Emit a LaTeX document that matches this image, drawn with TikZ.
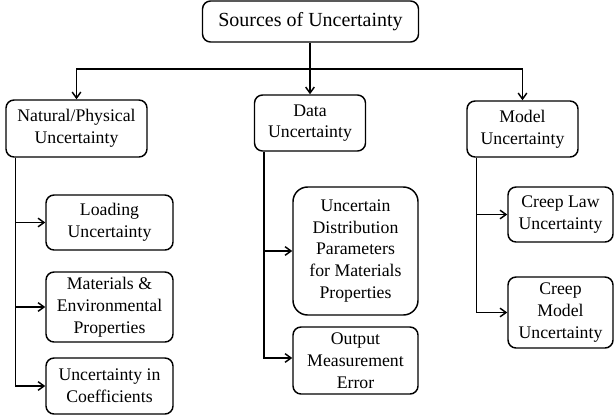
\documentclass[tikz,border=0pt]{standalone}
\usepackage{fontspec}
\setmainfont{Liberation Serif}
\usepackage{tikz}
\usetikzlibrary{arrows.meta}

\begin{document}
\begin{tikzpicture}[x=0.75pt, y=-0.75pt, line width=1.1pt,
  >={Straight Barb[length=4.5pt,width=6.5pt]},
  box/.style={draw, rounded corners=6pt, align=center, inner sep=0pt,
    font=\fontsize{13.3}{16.3}\selectfont}]
\useasboundingbox (0,0) rectangle (614,418);

\node[box, font=\fontsize{15}{18}\selectfont, minimum width=216*0.75pt, minimum height=41*0.75pt] (root) at (310.5,21.5) {Sources of Uncertainty};

\node[box, minimum width=141*0.75pt, minimum height=57*0.75pt] (nat) at (76.5,128.5) {Natural/Physical\\Uncertainty};
\node[box, minimum width=111*0.75pt, minimum height=56*0.75pt] (data) at (310,123) {Data\\Uncertainty};
\node[box, minimum width=111*0.75pt, minimum height=56*0.75pt] (model) at (522.5,129) {Model\\Uncertainty};

\node[box, minimum width=127*0.75pt, minimum height=55*0.75pt] (load) at (109.5,222.5) {Loading\\Uncertainty};
\node[box, minimum width=127*0.75pt, minimum height=70*0.75pt] (mat) at (109.5,307) {Materials \&\\Environmental\\Properties};
\node[box, minimum width=127*0.75pt, minimum height=56*0.75pt] (coef) at (109.5,386) {Uncertainty in\\Coefficients};

\node[box, rounded corners=11pt, minimum width=125*0.75pt, minimum height=128*0.75pt] (dist) at (355.5,251) {Uncertain\\Distribution\\Parameters\\for Materials\\Properties};
\node[box, minimum width=125*0.75pt, minimum height=67*0.75pt] (out) at (355.5,360.5) {Output\\Measurement\\Error};

\node[box, minimum width=105*0.75pt, minimum height=55*0.75pt] (law) at (560.5,214.5) {Creep Law\\Uncertainty};
\node[box, minimum width=105*0.75pt, minimum height=71*0.75pt] (cmodel) at (560.5,312.5) {Creep\\Model\\Uncertainty};

\coordinate (bus) at (310,69);
\draw[->] (root.south -| data.north) -- (data.north);
\draw[->] (bus) -| (nat.north);
\draw[->] (bus) -| (model.north);

\draw[->] ([xshift=10*0.75pt]nat.south west) |- (load.west);
\draw[->] ([xshift=10*0.75pt]nat.south west) |- (mat.west);
\draw[->] ([xshift=10*0.75pt]nat.south west) |- (coef.west);

\draw[->] ([xshift=10*0.75pt]data.south west) |- (dist.west);
\draw[->] ([xshift=10*0.75pt]data.south west) |- ([yshift=2.5*0.75pt]out.west);

\draw[->] ([xshift=10*0.75pt]model.south west) |- (law.west);
\draw[->] ([xshift=10*0.75pt]model.south west) |- (cmodel.west);
\end{tikzpicture}
\end{document}
